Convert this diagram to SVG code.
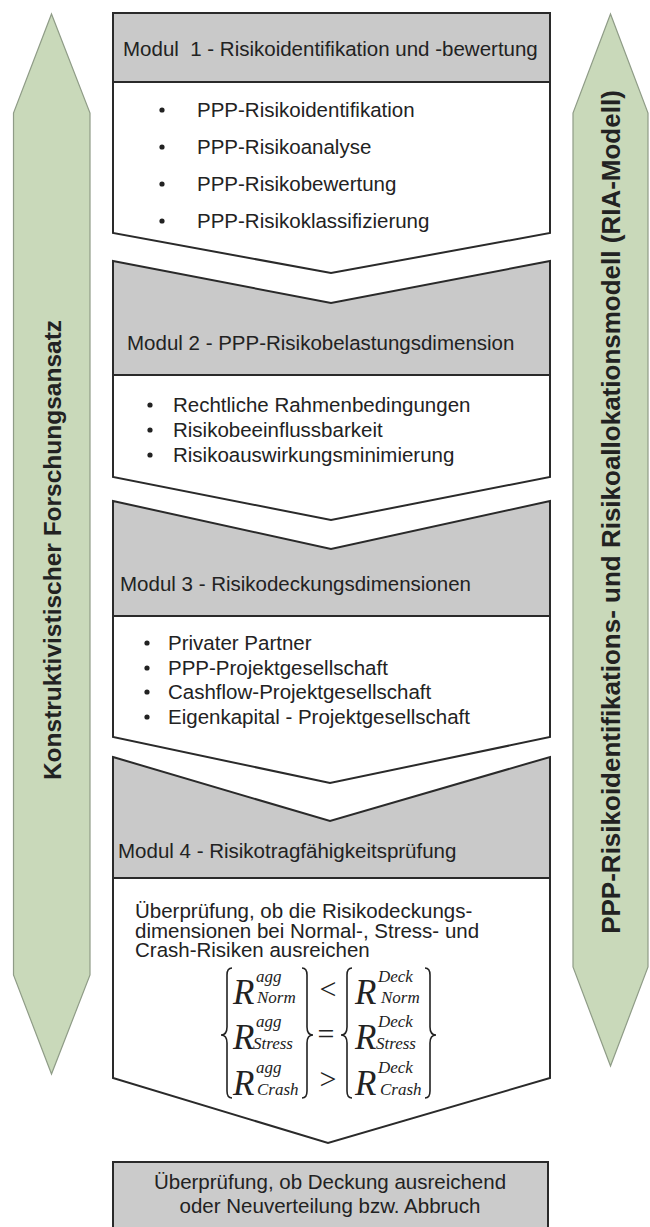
<svg xmlns="http://www.w3.org/2000/svg" width="650" height="1227" viewBox="0 0 650 1227">
<style>
.side{fill:#c9d9ba;stroke:#8f9c87;stroke-width:1.2}
.hdr{fill:#c9c9c9;stroke:none}
.box{fill:none;stroke:#2a2a2a;stroke-width:2;stroke-linejoin:miter}
.sep{stroke:#2a2a2a;stroke-width:2}
.t{font-family:"Liberation Sans",Arial,sans-serif;font-size:20.5px;fill:#222}
.st{font-family:"Liberation Sans",Arial,sans-serif;font-size:24.5px;font-weight:bold;fill:#222}
.st2{font-size:26px}
.m{font-family:"Liberation Serif","Times New Roman",serif;font-style:italic;fill:#222}
.R{font-size:35px}
.s{font-size:17px}
.op{font-family:"Liberation Serif","Times New Roman",serif;font-size:30px;fill:#222}
.br{fill:none;stroke:#222;stroke-width:1.6}
.dot{fill:#222}
</style>
<rect width="650" height="1227" fill="#ffffff"/>

<g id="left-arrow">
<path class="side" d="M51.5,14 L90,113 V975 L51.5,1074 L13.5,975 V113 Z"/>
<text class="st" text-anchor="middle" transform="translate(61,550) rotate(-90)">Konstruktivistischer Forschungsansatz</text>
</g>

<g id="right-arrow">
<path class="side" d="M610.5,14 L648,113 V967 L610.5,1066 L573,967 V113 Z"/>
<text class="st st2" text-anchor="middle" transform="translate(620,512) rotate(-90)">PPP-Risikoidentifikations- und Risikoallokationsmodell (RIA-Modell)</text>
</g>

<g id="modul1">
<path d="M113,13 H550 V233 L331,273 L113,233 Z" fill="#fff"/>
<rect class="hdr" x="113" y="13" width="437" height="69"/>
<line class="sep" x1="113" y1="82" x2="550" y2="82"/>
<path class="box" d="M113,13 H550 V233 L331,273 L113,233 Z"/>
<text class="t" x="123" y="56">Modul&#160; 1 - Risikoidentifikation und -bewertung</text>
<circle class="dot" cx="162" cy="110" r="2.6"/>
<circle class="dot" cx="162" cy="147" r="2.6"/>
<circle class="dot" cx="162" cy="184" r="2.6"/>
<circle class="dot" cx="162" cy="221" r="2.6"/>
<text class="t" x="197" y="117">PPP-Risikoidentifikation</text>
<text class="t" x="197" y="154">PPP-Risikoanalyse</text>
<text class="t" x="197" y="191">PPP-Risikobewertung</text>
<text class="t" x="197" y="228">PPP-Risikoklassifizierung</text>
</g>

<g id="modul2">
<path d="M113,261 L331,303 L550,261 V477 L331,520 L113,477 Z" fill="#fff"/>
<path class="hdr" d="M113,261 L331,303 L550,261 V375 H113 Z"/>
<line class="sep" x1="113" y1="375" x2="550" y2="375"/>
<path class="box" d="M113,261 L331,303 L550,261 V477 L331,520 L113,477 Z"/>
<text class="t" x="127" y="350">Modul 2 - PPP-Risikobelastungsdimension</text>
<circle class="dot" cx="150" cy="405" r="2.6"/>
<circle class="dot" cx="150" cy="430" r="2.6"/>
<circle class="dot" cx="150" cy="455" r="2.6"/>
<text class="t" x="173" y="412">Rechtliche Rahmenbedingungen</text>
<text class="t" x="173" y="437">Risikobeeinflussbarkeit</text>
<text class="t" x="173" y="462">Risikoauswirkungsminimierung</text>
</g>

<g id="modul3">
<path d="M113,501 L331,549 L550,501 V737 L330,783 L113,737 Z" fill="#fff"/>
<path class="hdr" d="M113,501 L331,549 L550,501 V616 H113 Z"/>
<line class="sep" x1="113" y1="616" x2="550" y2="616"/>
<path class="box" d="M113,501 L331,549 L550,501 V737 L330,783 L113,737 Z"/>
<text class="t" x="120" y="591">Modul 3 - Risikodeckungsdimensionen</text>
<circle class="dot" cx="147" cy="643" r="2.6"/>
<circle class="dot" cx="147" cy="668" r="2.6"/>
<circle class="dot" cx="147" cy="692" r="2.6"/>
<circle class="dot" cx="147" cy="717" r="2.6"/>
<text class="t" x="168" y="650">Privater Partner</text>
<text class="t" x="168" y="675">PPP-Projektgesellschaft</text>
<text class="t" x="168" y="699">Cashflow-Projektgesellschaft</text>
<text class="t" x="168" y="724">Eigenkapital - Projektgesellschaft</text>
</g>

<g id="modul4">
<path d="M113,757 L330,821 L550,757 V1078 L328,1143 L113,1078 Z" fill="#fff"/>
<path class="hdr" d="M113,757 L330,821 L550,757 V878 H113 Z"/>
<line class="sep" x1="113" y1="878" x2="550" y2="878"/>
<path class="box" d="M113,757 L330,821 L550,757 V1078 L328,1143 L113,1078 Z"/>
<text class="t" x="118" y="858">Modul 4 - Risikotragfähigkeitsprüfung</text>
<text class="t" x="135" y="918">Überprüfung, ob die Risikodeckungs-</text>
<text class="t" x="135" y="938">dimensionen bei Normal-, Stress- und</text>
<text class="t" x="135" y="957">Crash-Risiken ausreichen</text>
<g id="formel">
<path class="br" d="M232,968 Q227,968 227,975 V1027 Q227,1035 221,1035 Q227,1035 227,1043 V1091 Q227,1098 232,1098"/>
<path class="br" d="M302,968 Q307,968 307,975 V1027 Q307,1035 313,1035 Q307,1035 307,1043 V1091 Q307,1098 302,1098"/>
<path class="br" d="M352,968 Q347,968 347,975 V1027 Q347,1035 341,1035 Q347,1035 347,1043 V1091 Q347,1098 352,1098"/>
<path class="br" d="M425,968 Q430,968 430,975 V1027 Q430,1035 436,1035 Q430,1035 430,1043 V1091 Q430,1098 425,1098"/>
<text class="m R" x="233" y="1004">R</text>
<text class="m s" x="256" y="982">agg</text>
<text class="m s" x="257" y="1003">Norm</text>
<text class="m R" x="233" y="1049">R</text>
<text class="m s" x="256" y="1027">agg</text>
<text class="m s" x="253" y="1049">Stress</text>
<text class="m R" x="233" y="1095">R</text>
<text class="m s" x="256" y="1073">agg</text>
<text class="m s" x="257" y="1095">Crash</text>
<text class="op" x="328" y="999" text-anchor="middle">&lt;</text>
<text class="op" x="326" y="1044" text-anchor="middle">=</text>
<text class="op" x="328" y="1089" text-anchor="middle">&gt;</text>
<text class="m R" x="355" y="1004">R</text>
<text class="m s" x="378" y="982">Deck</text>
<text class="m s" x="381" y="1003">Norm</text>
<text class="m R" x="355" y="1049">R</text>
<text class="m s" x="378" y="1027">Deck</text>
<text class="m s" x="376" y="1049">Stress</text>
<text class="m R" x="355" y="1095">R</text>
<text class="m s" x="378" y="1073">Deck</text>
<text class="m s" x="380" y="1095">Crash</text>
</g>
</g>

<g id="ergebnis">
<rect x="113" y="1162" width="435" height="80" fill="#cbcbcb" stroke="#2a2a2a" stroke-width="2"/>
<text class="t" x="330" y="1189" text-anchor="middle">Überprüfung, ob Deckung ausreichend</text>
<text class="t" x="330" y="1213" text-anchor="middle">oder Neuverteilung bzw. Abbruch</text>
</g>

<g id="connectors"></g>
</svg>
